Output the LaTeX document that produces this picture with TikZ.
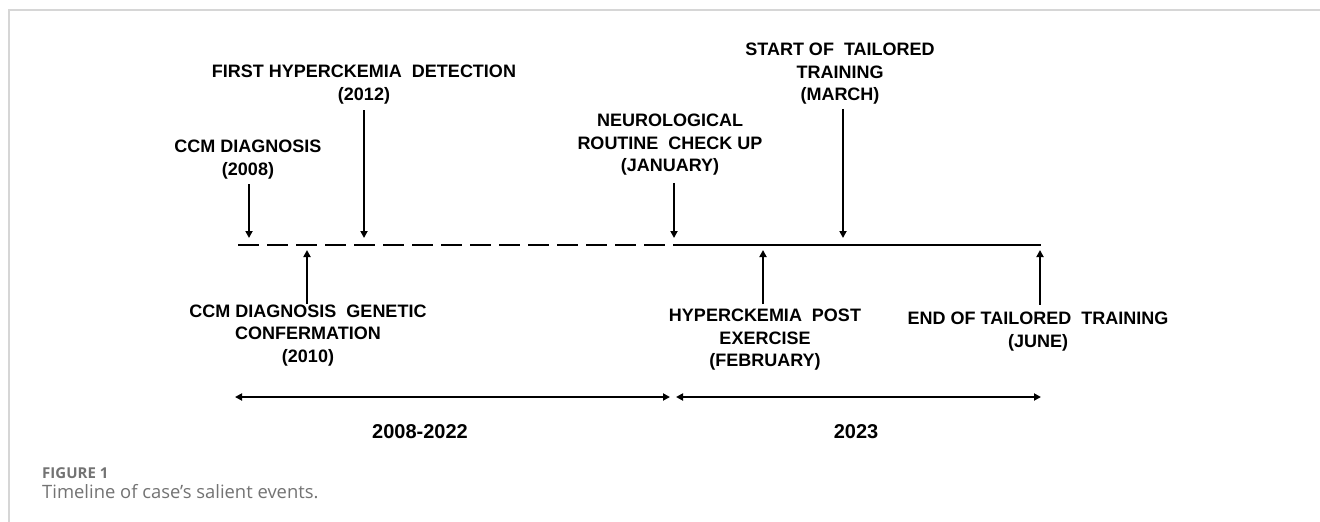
\documentclass[tikz,border=0pt]{standalone}
\usepackage{fontspec}
\setmainfont{Liberation Sans}
\newfontfamily\capfont{Open Sans}
\usetikzlibrary{arrows.meta}
\definecolor{framegray}{HTML}{D6D6D6}
\definecolor{capgray}{HTML}{737373}
\begin{document}
\begin{tikzpicture}[x=1pt,y=-1pt,
  lbl/.style={font=\fontsize{18}{22.5}\selectfont\bfseries, align=center, inner sep=0pt},
  period/.style={font=\fontsize{20}{24}\selectfont\bfseries, inner sep=0pt},
  arr/.style={line width=2.2pt, -{Triangle[length=7pt,width=7pt]}},
  downarr/.style={arr, shorten <=5pt, shorten >=7pt},
  uparr/.style={arr, shorten >=5pt},
  span/.style={line width=2pt, {Triangle[length=7pt,width=7pt]}-{Triangle[length=7pt,width=7pt]}},
  tline/.style={line width=2.6pt}
]
\useasboundingbox[fill=white] (0,0) rectangle (1320,522);
% frame
\draw[framegray, line width=1.5pt] (9,522) -- (9,10) -- (1320,10);

% timeline coordinates
\coordinate (d0) at (238,245);
\coordinate (d1) at (665,245);
\coordinate (s0) at (673,245);
\coordinate (s1) at (1041,245);
\draw[tline, dash pattern=on 20.5pt off 8.5pt] (d0) -- (d1);
\draw[tline] (s0) -- (s1);

\coordinate (t2008) at (249,245);
\coordinate (t2010) at (307,245);
\coordinate (t2012) at (364,245);
\coordinate (tJan) at (674,245);
\coordinate (tFeb) at (763,245);
\coordinate (tMar) at (843,245);
\coordinate (tJun) at (1040,245);

% labels above
\node[lbl] (l2008) at (248,159.5) {CCM DIAGNOSIS\\(2008)};
\node[lbl] (l2012) at (364,84.5) {FIRST HYPERCKEMIA\ \ DETECTION\\(2012)};
\node[lbl] (lJan) at (670,145) {NEUROLOGICAL\\ROUTINE\ \ CHECK UP\\(JANUARY)};
\node[lbl] (lMar) at (840,74) {START OF\ \ TAILORED\\TRAINING\\(MARCH)};

% labels below
\node[lbl] (l2010) at (308,335.5) {CCM DIAGNOSIS\ \ GENETIC\\CONFERMATION\\(2010)};
\node[lbl] (lFeb) at (765,340) {HYPERCKEMIA\ \ POST\\EXERCISE\\(FEBRUARY)};
\node[lbl] (lJun) at (1038,331.5) {END OF TAILORED\ \ TRAINING\\(JUNE)};

% arrows
\draw[downarr] (l2008.south -| t2008) -- (t2008);
\draw[arr, shorten <=6pt, shorten >=7pt] (l2012.south -| t2012) -- (t2012);
\draw[arr, shorten <=7pt, shorten >=7pt] (lJan.south -| tJan) -- (tJan);
\draw[arr, shorten <=4pt, shorten >=7pt] (lMar.south -| tMar) -- (tMar);
\draw[uparr, shorten <=1pt] (l2010.north -| t2010) -- (t2010);
\draw[uparr, shorten <=5pt] (lFeb.north -| tFeb) -- (tFeb);
\draw[uparr, shorten <=7pt] (lJun.north -| tJun) -- (tJun);

% periods
\coordinate (p0) at (235,397);
\coordinate (p1) at (670,397);
\coordinate (p2) at (676,397);
\coordinate (p3) at (1041,397);
\draw[span] (p0) -- (p1);
\draw[span] (p2) -- (p3);
\node[period] (per1) at (420,432) {2008-2022};
\node[period] (per2) at (856,432) {2023};

% caption
\node[anchor=base west, inner sep=0pt, text=capgray, font=\capfont\fontsize{15}{17}\selectfont\bfseries] (fig) at (42,478) {FIGURE 1};
\node[anchor=base west, inner sep=0pt, text=capgray, font=\capfont\fontsize{18.4}{21}\selectfont] (cap) at (42,498) {Timeline of case’s salient events.};
\end{tikzpicture}
\end{document}
